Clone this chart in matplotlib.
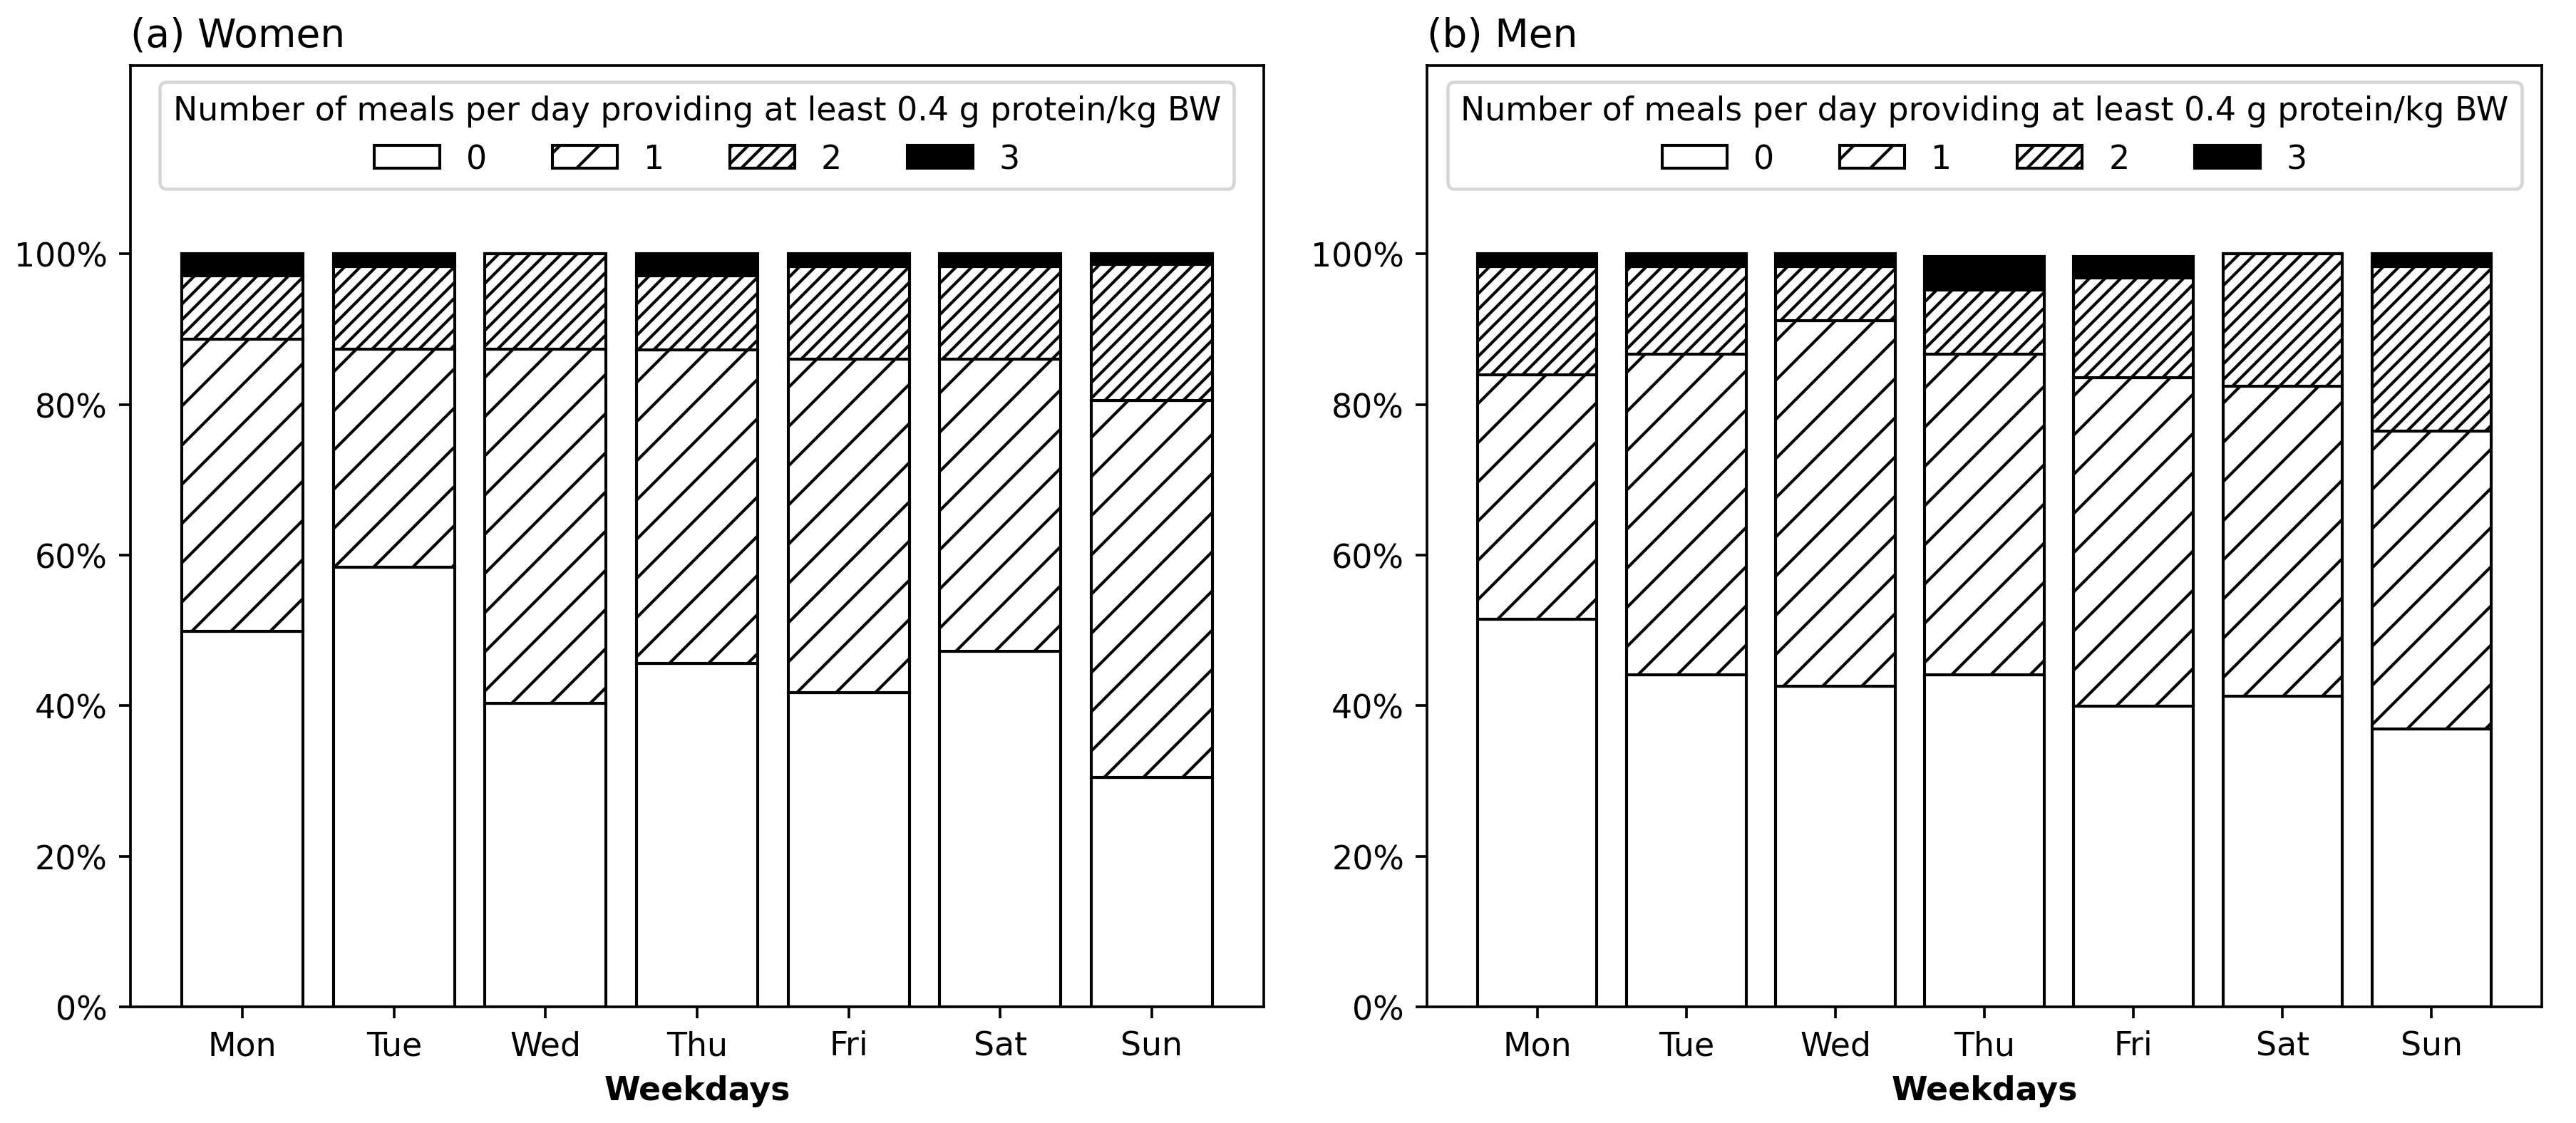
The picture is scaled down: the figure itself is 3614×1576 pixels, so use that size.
import numpy as np
import matplotlib
matplotlib.use("Agg")
import matplotlib.pyplot as plt
from matplotlib.ticker import PercentFormatter

# Weekdays on the x axis
DAYS = ['Mon', 'Tue', 'Wed', 'Thu', 'Fri', 'Sat', 'Sun']

# Share of participants (%) by number of meals reaching 0.4 g protein/kg BW
women_0 = [49.9, 58.4, 40.3, 45.6, 41.7, 47.2, 30.5]
women_1 = [38.8, 28.9, 47.0, 41.6, 44.3, 38.8, 50.0]
women_2 = [8.4, 11.0, 12.7, 9.9, 12.3, 12.3, 18.1]
women_3 = [2.9, 1.7, 0.0, 2.9, 1.7, 1.7, 1.4]

men_0 = [51.5, 44.1, 42.6, 44.1, 39.9, 41.3, 36.9]
men_1 = [32.4, 42.6, 48.5, 42.6, 43.7, 41.1, 39.6]
men_2 = [14.4, 11.6, 7.2, 8.5, 13.2, 17.6, 21.8]
men_3 = [1.7, 1.7, 1.7, 4.4, 2.8, 0.0, 1.7]

MEAL_LABELS = ['0', '1', '2', '3']
LEGEND_TITLE = 'Number of meals per day providing at least 0.4 g protein/kg BW'

# Style for each category: (facecolor, hatch)
STYLES = [('white', ''), ('white', '//'), ('white', '/////'), ('black', '')]

DPI = 330
plt.rcParams['font.size'] = 10
plt.rcParams['hatch.linewidth'] = 0.9


def draw_panel(ax, series, title):
    x = np.arange(len(DAYS))
    bottom = np.zeros(len(DAYS))
    for values, (fc, hatch), label in zip(series, STYLES, MEAL_LABELS):
        vals = np.array(values) / 100.0
        ax.bar(x, vals, width=0.8, bottom=bottom, color=fc, hatch=hatch,
               edgecolor='black', linewidth=0.9, label=label)
        bottom += vals
    ax.set_xticks(x)
    ax.set_xticklabels(DAYS)
    ax.set_ylim(0, 1.25)
    ax.set_yticks(np.arange(0, 1.01, 0.2))
    ax.yaxis.set_major_formatter(PercentFormatter(1.0, decimals=0))
    ax.set_xlabel('Weekdays', fontweight='bold')
    ax.set_title(title, loc='left', fontsize=12)
    ax.legend(title=LEGEND_TITLE, ncol=4, loc='upper center',
              title_fontsize=10)


fig = plt.figure(figsize=(3614 / DPI, 1577 / DPI), dpi=DPI)
ax1 = fig.add_axes([0.0506, 0.1034, 0.44, 0.8376])
ax2 = fig.add_axes([0.554, 0.1034, 0.4327, 0.8376])

draw_panel(ax1, [women_0, women_1, women_2, women_3], '(a) Women')
draw_panel(ax2, [men_0, men_1, men_2, men_3], '(b) Men')

fig.savefig('out.png', dpi=DPI)
